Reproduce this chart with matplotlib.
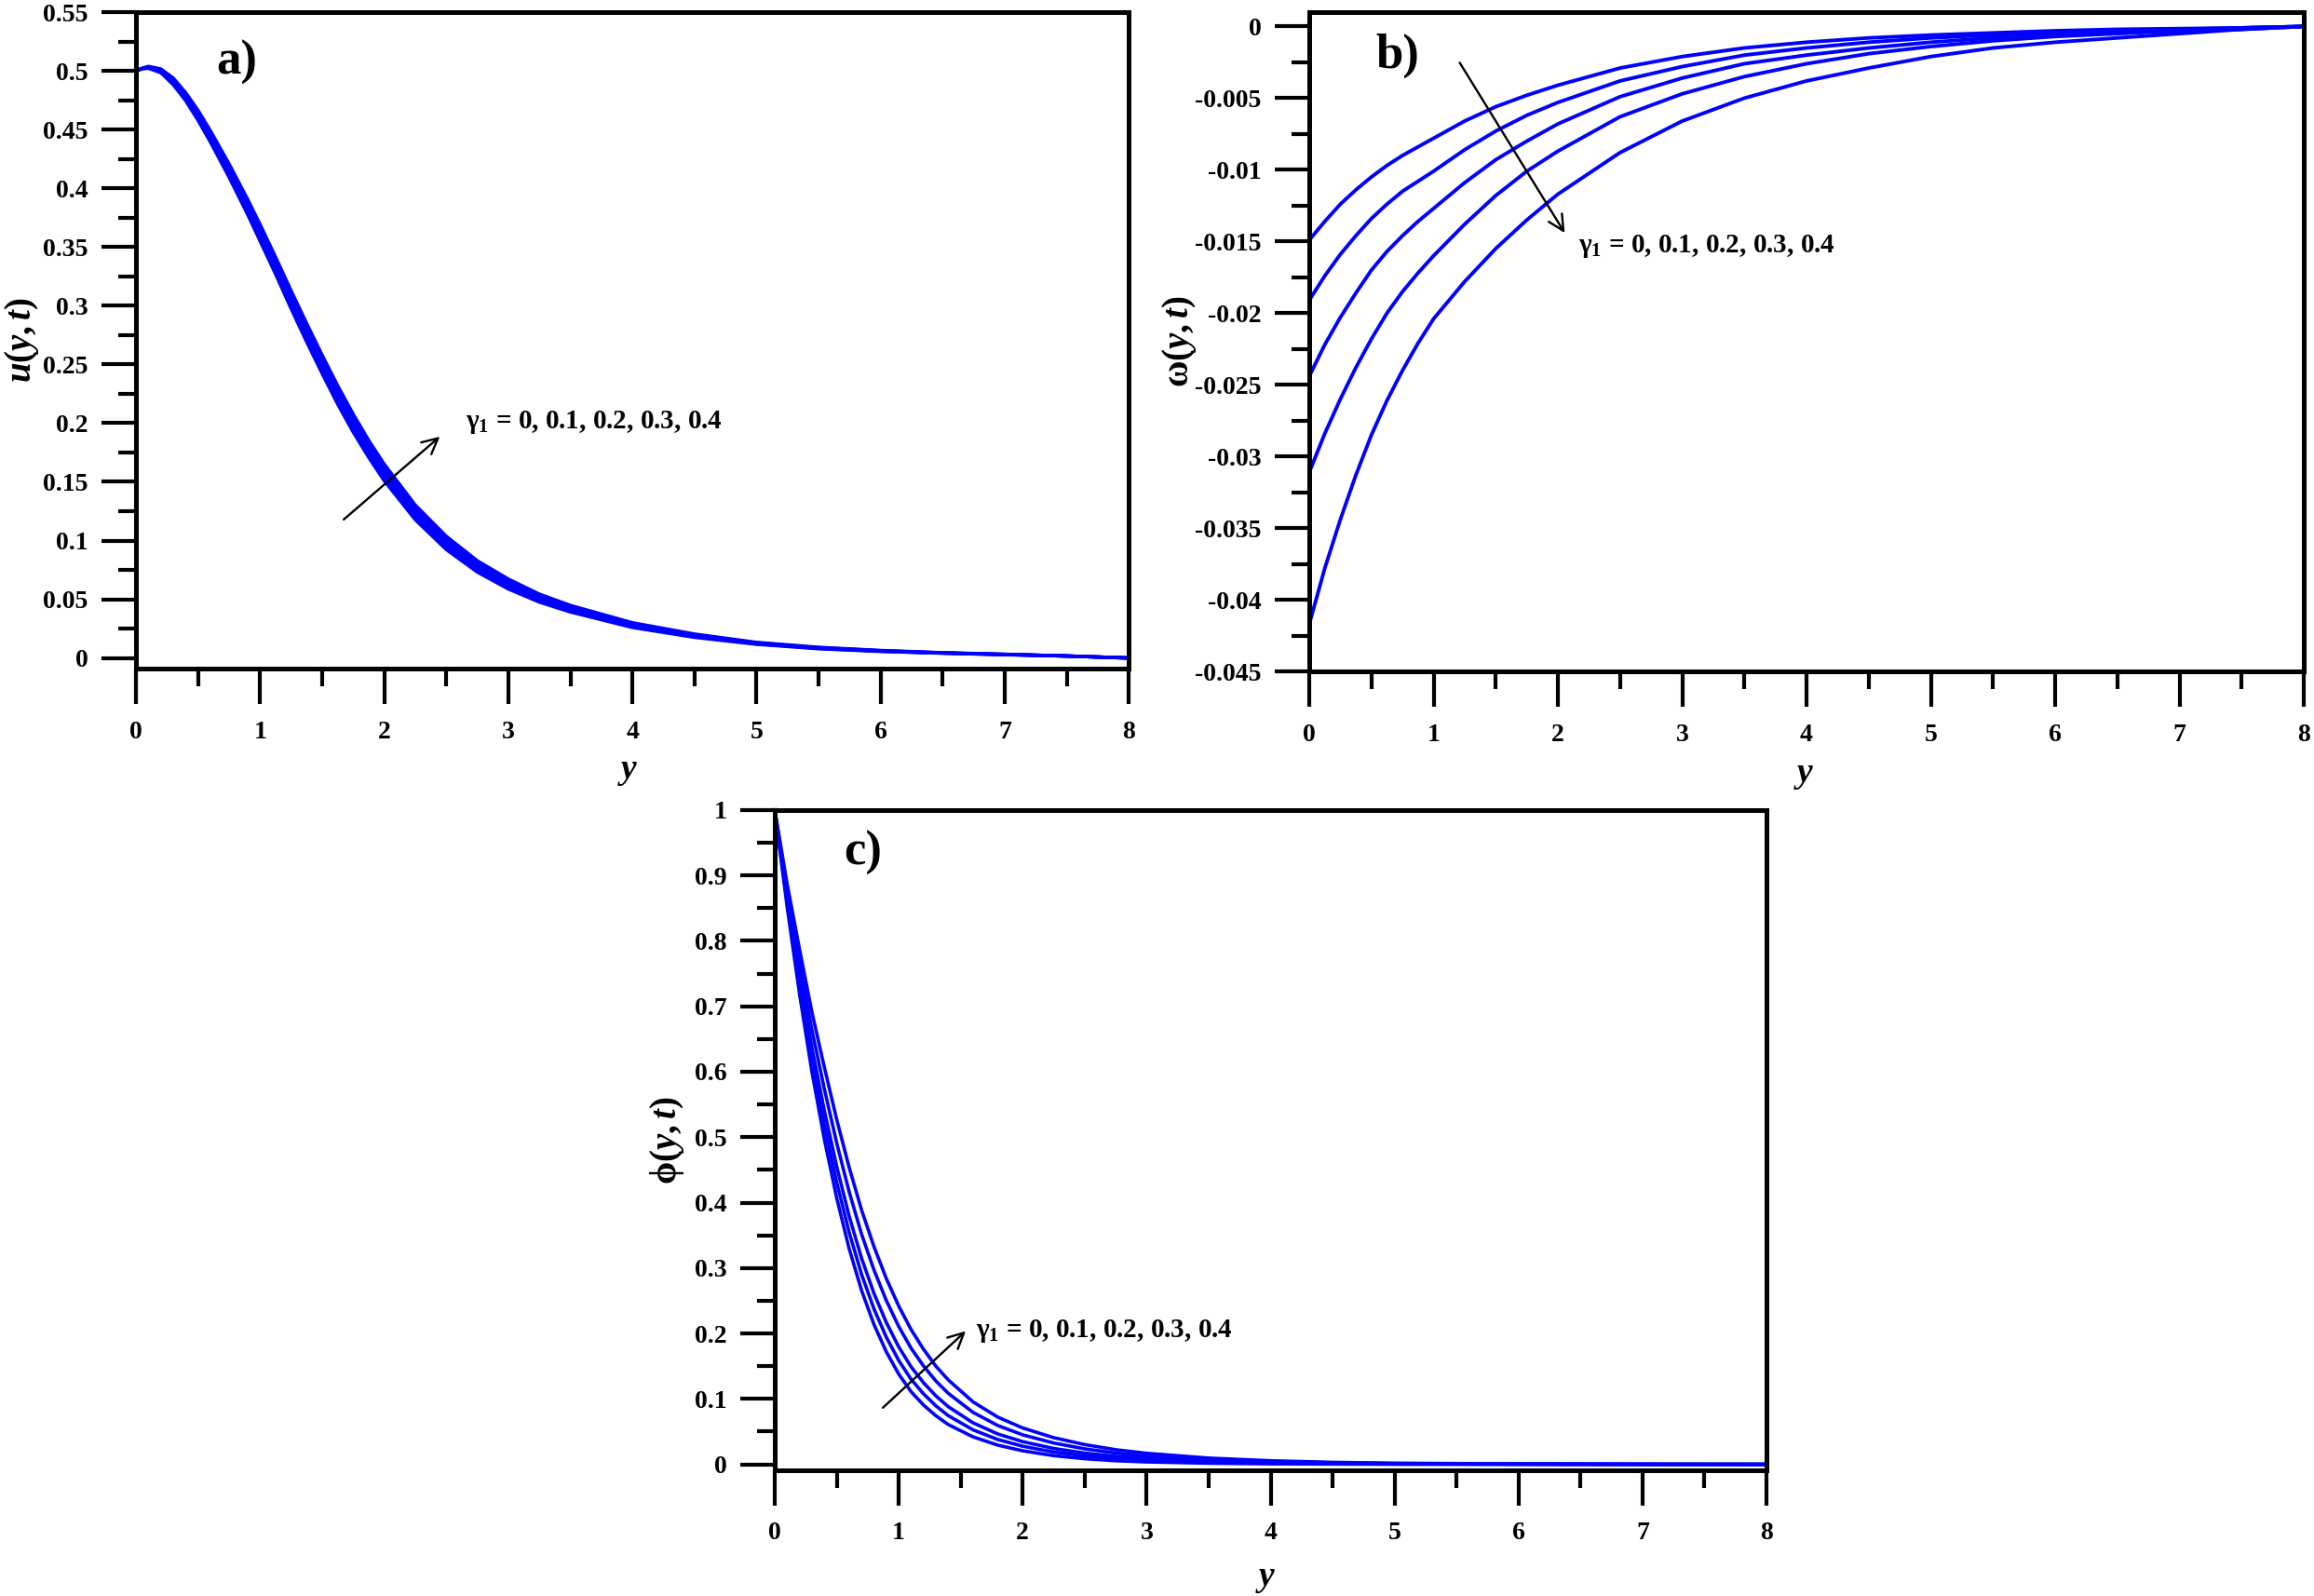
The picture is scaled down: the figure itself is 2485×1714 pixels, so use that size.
"""Three-panel profile figure: velocity, microrotation and concentration vs y
for several values of gamma_1."""

import matplotlib

matplotlib.use("Agg")
import matplotlib.pyplot as plt
from matplotlib.ticker import FixedLocator, MultipleLocator

OUTPUT = "out.png"

GAMMA_TEXT = r"$\mathrm{\gamma}_1$ = 0, 0.1, 0.2, 0.3, 0.4"
LINE_BLUE = "#0000FF"

# ---- panel a: u(y,t) -------------------------------------------------------
Y_A = [0, 0.05, 0.1, 0.2, 0.3, 0.4, 0.5, 0.6, 0.75, 0.9, 1.0, 1.125, 1.25, 1.375,
       1.5, 1.625, 1.75, 1.875, 2.0, 2.25, 2.5, 2.75, 3.0, 3.25, 3.5, 4.0, 4.5,
       5.0, 5.5, 6.0, 6.5, 7.0, 7.5, 8.0]
U_G0 = [0.5, 0.5018, 0.5022, 0.4984, 0.4882, 0.4746, 0.4578, 0.4392, 0.4094, 0.3776,
        0.355, 0.3268, 0.2974, 0.2692, 0.2422, 0.2162, 0.1924, 0.1708, 0.151, 0.1178,
        0.0924, 0.0732, 0.0588, 0.0476, 0.0392, 0.026, 0.0176, 0.0117, 0.0079, 0.0056,
        0.0041, 0.0028, 0.0017, 0.0]
U_G1 = [0.5, 0.5019, 0.5026, 0.4992, 0.4896, 0.4763, 0.4599, 0.4416, 0.4122, 0.3808,
        0.3585, 0.3304, 0.3012, 0.2731, 0.2461, 0.2201, 0.1962, 0.1744, 0.1545, 0.1209,
        0.0952, 0.0756, 0.0609, 0.0493, 0.0406, 0.027, 0.0183, 0.0121, 0.0082, 0.0058,
        0.0042, 0.0029, 0.0017, 0.0]
U_G2 = [0.5, 0.502, 0.503, 0.500, 0.491, 0.478, 0.462, 0.444, 0.415, 0.384,
        0.362, 0.334, 0.305, 0.277, 0.250, 0.224, 0.200, 0.178, 0.158, 0.124,
        0.098, 0.078, 0.063, 0.051, 0.042, 0.028, 0.019, 0.0125, 0.0085, 0.006,
        0.0043, 0.003, 0.0017, 0.0]
U_G3 = [0.5, 0.5021, 0.5034, 0.5008, 0.4924, 0.4797, 0.4641, 0.4464, 0.4178, 0.3872,
        0.3655, 0.3376, 0.3088, 0.2809, 0.2539, 0.2279, 0.2038, 0.1816, 0.1615, 0.1271,
        0.1008, 0.0804, 0.0651, 0.0527, 0.0434, 0.029, 0.0197, 0.0129, 0.0088, 0.0062,
        0.0044, 0.0031, 0.0017, 0.0]
U_G4 = [0.5, 0.5022, 0.5038, 0.5016, 0.4938, 0.4814, 0.4662, 0.4488, 0.4206, 0.3904,
        0.369, 0.3412, 0.3126, 0.2848, 0.2578, 0.2318, 0.2076, 0.1852, 0.165, 0.1302,
        0.1036, 0.0828, 0.0672, 0.0544, 0.0448, 0.030, 0.0204, 0.0133, 0.0091, 0.0064,
        0.0045, 0.0032, 0.0017, 0.0]
U_SERIES = [U_G0, U_G1, U_G2, U_G3, U_G4]
U_TICKS = [0, 0.05, 0.1, 0.15, 0.2, 0.25, 0.3, 0.35, 0.4, 0.45, 0.5, 0.55]
U_TICK_LABELS = ["0", "0.05", "0.1", "0.15", "0.2", "0.25", "0.3", "0.35",
                 "0.4", "0.45", "0.5", "0.55"]

# ---- panel b: omega(y,t) ---------------------------------------------------
Y_B = [0, 0.125, 0.25, 0.375, 0.5, 0.625, 0.75, 0.875, 1.0, 1.25, 1.5, 1.75, 2.0,
       2.5, 3.0, 3.5, 4.0, 4.5, 5.0, 5.5, 6.0, 6.5, 7.0, 7.5, 8.0]
W_G0 = [-0.0149, -0.0136, -0.0124, -0.0114, -0.0105, -0.0097, -0.0090, -0.0084, -0.0078,
        -0.0066, -0.0056, -0.0048, -0.0041, -0.0029, -0.0021, -0.0015, -0.0011, -0.0008,
        -0.0006, -0.00045, -0.0003, -0.0002, -0.00015, -0.0001, 0.0]
W_G1 = [-0.0191, -0.0174, -0.0159, -0.0146, -0.0134, -0.0124, -0.0115, -0.0108, -0.0101,
        -0.0086, -0.0073, -0.0062, -0.0053, -0.0038, -0.0028, -0.0020, -0.0015, -0.0011,
        -0.0008, -0.0006, -0.0004, -0.0003, -0.0002, -0.0001, 0.0]
W_G2 = [-0.0244, -0.0222, -0.0203, -0.0186, -0.0170, -0.0157, -0.0146, -0.0136, -0.0127,
        -0.0109, -0.0093, -0.0080, -0.0068, -0.0049, -0.0036, -0.0026, -0.0020, -0.0015,
        -0.0011, -0.0008, -0.0006, -0.0004, -0.0003, -0.0001, 0.0]
W_G3 = [-0.0311, -0.0284, -0.0260, -0.0238, -0.0218, -0.0200, -0.0185, -0.0172, -0.0160,
        -0.0138, -0.0118, -0.0101, -0.0087, -0.0063, -0.0047, -0.0035, -0.0026, -0.0019,
        -0.0014, -0.0010, -0.0007, -0.0005, -0.0003, -0.0002, 0.0]
W_G4 = [-0.0417, -0.0378, -0.0344, -0.0313, -0.0285, -0.0261, -0.0240, -0.0221, -0.0204,
        -0.0178, -0.0155, -0.0135, -0.0117, -0.0088, -0.0066, -0.0050, -0.0038, -0.0029,
        -0.0021, -0.0015, -0.0011, -0.0008, -0.0005, -0.0002, 0.0]
W_SERIES = [W_G0, W_G1, W_G2, W_G3, W_G4]
W_TICKS = [0, -0.005, -0.01, -0.015, -0.02, -0.025, -0.03, -0.035, -0.04, -0.045]
W_TICK_LABELS = ["0", "-0.005", "-0.01", "-0.015", "-0.02", "-0.025", "-0.03",
                 "-0.035", "-0.04", "-0.045"]

# ---- panel c: phi(y,t) -----------------------------------------------------
Y_C = [0, 0.1, 0.2, 0.3, 0.4, 0.5, 0.6, 0.7, 0.8, 0.9, 1.0, 1.1, 1.2, 1.3, 1.4,
       1.6, 1.8, 2.0, 2.25, 2.5, 2.75, 3.0, 3.5, 4.0, 4.5, 5.0, 6.0, 7.0, 8.0]
P_G0 = [1.0, 0.852, 0.719, 0.600, 0.497, 0.407, 0.330, 0.266, 0.214, 0.172, 0.138,
        0.111, 0.0907, 0.0743, 0.0608, 0.042, 0.0293, 0.0207, 0.0133, 0.0086, 0.0055,
        0.0037, 0.0017, 0.0008, 0.0004, 0.0002, 0.0001, 0.0, 0.0]
P_G1 = [1.0, 0.859, 0.7326, 0.6182, 0.519, 0.431, 0.3548, 0.2906, 0.2378, 0.1944,
        0.1588, 0.130, 0.1078, 0.0894, 0.0744, 0.0527, 0.0379, 0.0277, 0.0188, 0.0129,
        0.0089, 0.0063, 0.0033, 0.0017, 0.0009, 0.0005, 0.0002, 0.0, 0.0]
P_G2 = [1.0, 0.866, 0.7462, 0.6364, 0.541, 0.455, 0.3796, 0.3152, 0.2616, 0.2168,
        0.1796, 0.149, 0.1248, 0.1046, 0.0881, 0.0634, 0.0464, 0.0347, 0.0243, 0.0172,
        0.0123, 0.009, 0.0049, 0.0027, 0.0015, 0.0008, 0.0003, 0.0001, 0.0]
P_G3 = [1.0, 0.8765, 0.7666, 0.6637, 0.574, 0.491, 0.4168, 0.3521, 0.2973, 0.2504,
        0.2108, 0.1775, 0.1504, 0.1273, 0.1085, 0.0794, 0.0593, 0.0451, 0.0326, 0.0237,
        0.0173, 0.0129, 0.0072, 0.0041, 0.0023, 0.0013, 0.0005, 0.0001, 0.0]
P_G4 = [1.0, 0.887, 0.787, 0.691, 0.607, 0.527, 0.454, 0.389, 0.333, 0.284, 0.242,
        0.206, 0.176, 0.150, 0.129, 0.0954, 0.0721, 0.0556, 0.0408, 0.0302, 0.0224,
        0.0169, 0.0096, 0.0055, 0.0031, 0.0018, 0.0006, 0.0002, 0.0]
P_SERIES = [P_G0, P_G1, P_G2, P_G3, P_G4]
P_TICKS = [0, 0.1, 0.2, 0.3, 0.4, 0.5, 0.6, 0.7, 0.8, 0.9, 1.0]
P_TICK_LABELS = ["0", "0.1", "0.2", "0.3", "0.4", "0.5", "0.6", "0.7", "0.8", "0.9", "1"]

X_TICKS = [0, 1, 2, 3, 4, 5, 6, 7, 8]


def style_axes(ax, yticks, ylabels, ylim, yminor):
    ax.set_xlim(0, 8)
    ax.set_ylim(*ylim)
    ax.xaxis.set_major_locator(FixedLocator(X_TICKS))
    ax.set_xticklabels([str(t) for t in X_TICKS])
    ax.xaxis.set_minor_locator(MultipleLocator(0.5))
    ax.yaxis.set_major_locator(FixedLocator(yticks))
    ax.set_yticklabels(ylabels)
    ax.yaxis.set_minor_locator(MultipleLocator(yminor))
    ax.tick_params(which="major", direction="out", length=27, width=3.0,
                   labelsize=20)
    ax.tick_params(which="minor", direction="out", length=14, width=3.0)
    ax.tick_params(axis="y", which="both", pad=10, right=False)
    ax.tick_params(axis="x", which="both", pad=13, top=False)
    for sp in ax.spines.values():
        sp.set_linewidth(3.6)


def add_gamma_note(ax, start, end, text_xy):
    ax.annotate("", xy=end, xytext=start,
                arrowprops=dict(arrowstyle="->", lw=1.7, color="black",
                                mutation_scale=30))
    ax.text(text_xy[0], text_xy[1], GAMMA_TEXT, fontsize=21, va="center", ha="left")


def main() -> int:
    plt.rcParams["font.family"] = ["Liberation Serif", "DejaVu Serif"]
    plt.rcParams["font.weight"] = "bold"
    plt.rcParams["mathtext.fontset"] = "custom"
    plt.rcParams["mathtext.rm"] = "Liberation Serif:bold"
    plt.rcParams["mathtext.it"] = "Liberation Serif:bold:italic"
    plt.rcParams["mathtext.bf"] = "Liberation Serif:bold"

    fig = plt.figure(figsize=(24.85, 17.14), dpi=100)
    ax_a = fig.add_axes([0.0588, 0.5811, 0.4290, 0.4113])
    ax_b = fig.add_axes([0.5658, 0.5793, 0.4298, 0.4131])
    ax_c = fig.add_axes([0.3348, 0.0788, 0.4286, 0.4137])

    # a) velocity
    for vals in U_SERIES:
        ax_a.plot(Y_A, vals, color=LINE_BLUE, lw=2.6)
    style_axes(ax_a, U_TICKS, U_TICK_LABELS, (-0.009, 0.55), 0.025)
    ax_a.set_ylabel(r"$u(y,t)$", fontsize=28)
    ax_a.yaxis.set_label_coords(-0.096, 0.5)
    ax_a.set_xlabel(r"$y$", fontsize=27)
    ax_a.xaxis.set_label_coords(0.495, -0.133)
    add_gamma_note(ax_a, (1.658, 0.1165), (2.464, 0.190), (2.653, 0.2006))
    ax_a.text(0.101, 0.923, "a)", transform=ax_a.transAxes, fontsize=38,
              ha="center", va="center")

    # b) microrotation
    for vals in W_SERIES:
        ax_b.plot(Y_B, vals, color=LINE_BLUE, lw=2.8)
    style_axes(ax_b, W_TICKS, W_TICK_LABELS, (-0.045, 0.001), 0.0025)
    ax_b.set_ylabel(r"$\mathrm{\omega}(y,t)$", fontsize=28)
    ax_b.yaxis.set_label_coords(-0.111, 0.5)
    ax_b.set_xlabel(r"$y$", fontsize=27)
    ax_b.xaxis.set_label_coords(0.497, -0.133)
    add_gamma_note(ax_b, (1.199, -0.00237), (2.066, -0.01456), (2.168, -0.01532))
    ax_b.text(0.089, 0.934, "b)", transform=ax_b.transAxes, fontsize=38,
              ha="center", va="center")

    # c) concentration
    for vals in P_SERIES:
        ax_c.plot(Y_C, vals, color=LINE_BLUE, lw=2.6, clip_on=False)
    style_axes(ax_c, P_TICKS, P_TICK_LABELS, (-0.009, 1.0), 0.05)
    ax_c.set_ylabel(r"$\mathrm{\phi}(y,t)$", fontsize=28)
    ax_c.yaxis.set_label_coords(-0.089, 0.5)
    ax_c.set_xlabel(r"$y$", fontsize=27)
    ax_c.xaxis.set_label_coords(0.495, -0.14)
    add_gamma_note(ax_c, (0.857, 0.0838), (1.556, 0.2063), (1.622, 0.203))
    ax_c.text(0.089, 0.935, "c)", transform=ax_c.transAxes, fontsize=38,
              ha="center", va="center")

    fig.savefig(OUTPUT, dpi=100)
    return 0


if __name__ == "__main__":
    raise SystemExit(main())
